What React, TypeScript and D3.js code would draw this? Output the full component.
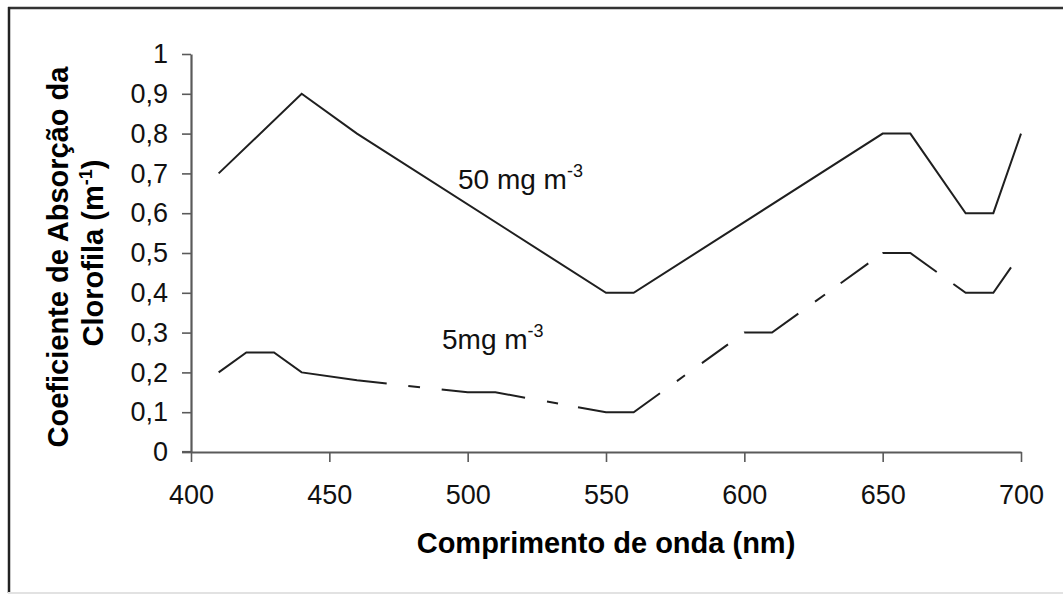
import React, { useEffect, useRef } from 'react';
import * as d3 from 'd3';

// wavelength (nm) and chlorophyll absorption coefficient (m-1)
const wave50 = [410, 440, 460, 550, 560, 650, 660, 680, 690, 700];
const abs50 = [0.7, 0.9, 0.8, 0.4, 0.4, 0.8, 0.8, 0.6, 0.6, 0.8];

const wave5 = [410, 420, 430, 440, 460, 500, 510, 550, 560, 600, 610, 650, 660, 680, 690, 700];
const abs5 = [0.2, 0.25, 0.25, 0.2, 0.18, 0.15, 0.15, 0.1, 0.1, 0.3, 0.3, 0.5, 0.5, 0.4, 0.4, 0.5];

const xTicks = [400, 450, 500, 550, 600, 650, 700];
const yTicks = [0, 0.1, 0.2, 0.3, 0.4, 0.5, 0.6, 0.7, 0.8, 0.9, 1];
const yTickLabels = ['0', '0,1', '0,2', '0,3', '0,4', '0,5', '0,6', '0,7', '0,8', '0,9', '1'];

// irregular dash look of the 5 mg line (path-length units)
const dash5 = [181.6, 21.7, 11.8, 21.8, 84, 22.3, 11.2, 20.3, 88.5, 20.9, 9.9, 20.9, 32.1, 20.1,
  60.1, 20.6, 12.3, 19.3, 34, 17.7, 60.2, 20.5, 73.8, 40];

const W = 1063, H = 595;
const FONT = '"Liberation Sans", Arial, sans-serif';

const App = () => {
  const ref = useRef<SVGSVGElement>(null);

  useEffect(() => {
    if (!ref.current) return;
    const svg = d3.select(ref.current);
    svg.selectAll('*').remove();

    const x = d3.scaleLinear().domain([400, 700]).range([191, 1021]);
    const y = d3.scaleLinear().domain([0, 1]).range([452, 54]);

    svg.append('rect').attr('width', W).attr('height', H).attr('fill', '#fff');

    // chart area border
    svg.append('line').attr('x1', 8).attr('x2', W).attr('y1', 8).attr('y2', 8)
      .attr('stroke', '#333').attr('stroke-width', 2.5);
    svg.append('line').attr('x1', 9).attr('x2', 9).attr('y1', 7).attr('y2', 593)
      .attr('stroke', '#222').attr('stroke-width', 2.5);
    svg.append('line').attr('x1', 8).attr('x2', W).attr('y1', 593).attr('y2', 593)
      .attr('stroke', '#e2e2e2').attr('stroke-width', 2);

    const xAxis = svg.append('g')
      .attr('transform', `translate(0,${y(0)})`)
      .call(d3.axisBottom(x).tickValues(xTicks).tickSize(10).tickSizeOuter(0).tickPadding(23).tickFormat(d3.format('d')));
    const yAxis = svg.append('g')
      .attr('transform', `translate(${x(400)},0)`)
      .call(d3.axisLeft(y).tickValues(yTicks).tickSize(9).tickSizeOuter(0).tickPadding(14)
        .tickFormat((d, i) => yTickLabels[i]));

    [xAxis, yAxis].forEach(g => {
      g.select('.domain').attr('stroke', '#5a5a5a').attr('stroke-width', 2.2);
      g.selectAll('.tick line').attr('stroke', '#5a5a5a').attr('stroke-width', 1.6);
      g.selectAll('.tick text').attr('fill', '#111').attr('font-family', FONT).attr('font-size', 27);
    });
    // x axis line reaches the y tick marks
    svg.append('line').attr('x1', x(400) - 9).attr('x2', x(400)).attr('y1', y(0)).attr('y2', y(0))
      .attr('stroke', '#5a5a5a').attr('stroke-width', 2.2);

    const curve = d3.line<[number, number]>().x(d => x(d[0])).y(d => y(d[1]));
    svg.append('path')
      .datum(wave50.map((w, i) => [w, abs50[i]] as [number, number]))
      .attr('d', curve).attr('fill', 'none').attr('stroke', '#1f1f1f').attr('stroke-width', 2);
    svg.append('path')
      .datum(wave5.map((w, i) => [w, abs5[i]] as [number, number]))
      .attr('d', curve).attr('fill', 'none').attr('stroke', '#1f1f1f').attr('stroke-width', 2)
      .attr('stroke-dasharray', dash5.join(','));

    // labels on the curves
    const t50 = svg.append('text').attr('x', 458).attr('y', 189)
      .attr('font-family', FONT).attr('font-size', 28).attr('fill', '#111');
    t50.append('tspan').text('50 mg m');
    t50.append('tspan').attr('dy', -12).attr('font-size', 18).text('-3');

    const t5 = svg.append('text').attr('x', 442).attr('y', 349)
      .attr('font-family', FONT).attr('font-size', 28).attr('fill', '#111');
    t5.append('tspan').text('5mg m');
    t5.append('tspan').attr('dy', -12).attr('font-size', 18).text('-3');

    // axis titles
    svg.append('text').attr('x', 606).attr('y', 553).attr('text-anchor', 'middle')
      .attr('font-family', FONT).attr('font-weight', 'bold').attr('font-size', 29).attr('fill', '#000')
      .text('Comprimento de onda (nm)');

    const yt = svg.append('g').attr('transform', 'translate(0,257) rotate(-90)')
      .attr('font-family', FONT).attr('font-weight', 'bold').attr('font-size', 29).attr('fill', '#000')
      .attr('text-anchor', 'middle');
    yt.append('text').attr('x', 0).attr('y', 68).text('Coeficiente de Absorção da');
    const l2 = yt.append('text').attr('x', 4).attr('y', 103);
    l2.append('tspan').text('Clorofila (m');
    l2.append('tspan').attr('dy', -11).attr('font-size', 18).text('-1');
    l2.append('tspan').attr('dy', 11).text(')');
  }, []);

  return (
    <svg ref={ref} width={W} height={H}
      style={{ position: 'absolute', left: 0, top: 0, display: 'block' }} />
  );
};

export default App;
